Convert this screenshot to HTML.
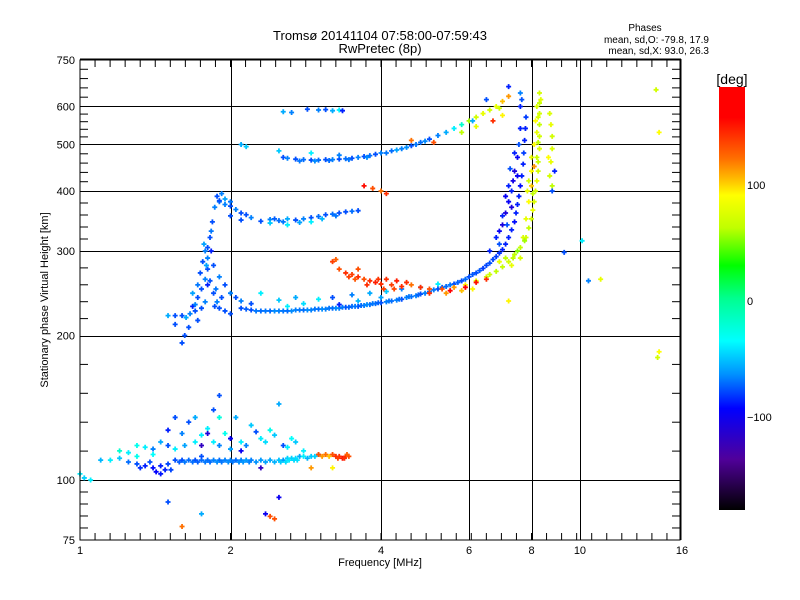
<!DOCTYPE html>
<html><head><meta charset="utf-8"><style>
html,body{margin:0;padding:0;background:#fff;}
svg{display:block;font-family:"Liberation Sans","DejaVu Sans",sans-serif;}
</style></head><body>
<svg id="chart" width="800" height="600" viewBox="0 0 800 600" xmlns="http://www.w3.org/2000/svg">
<defs>
<linearGradient id="cbar" x1="0" y1="1" x2="0" y2="0">
<stop offset="0" stop-color="#000000"/><stop offset="0.12" stop-color="#50009a"/><stop offset="0.24" stop-color="#0000ff"/>
<stop offset="0.32" stop-color="#0090ff"/><stop offset="0.40" stop-color="#00ffff"/><stop offset="0.50" stop-color="#00ff90"/>
<stop offset="0.578" stop-color="#00ff00"/><stop offset="0.667" stop-color="#c0ff00"/><stop offset="0.744" stop-color="#ffff00"/>
<stop offset="0.78" stop-color="#ffc000"/><stop offset="0.83" stop-color="#ff7000"/><stop offset="0.928" stop-color="#ff0000"/><stop offset="1" stop-color="#ff0000"/>
</linearGradient>
</defs>
<text x="380" y="40" font-size="13" text-anchor="middle">Tromsø 20141104 07:58:00-07:59:43</text>
<text x="380" y="53" font-size="13" text-anchor="middle">RwPretec (8p)</text>
<text x="645" y="31" font-size="10" text-anchor="middle">Phases</text>
<text x="709" y="43" font-size="10" text-anchor="end">mean, sd,O: -79.8, 17.9</text>
<text x="709" y="54" font-size="10" text-anchor="end">mean, sd,X:  93.0, 26.3</text>
<g id="grid"></g>
<g id="marks"></g>
<rect x="80" y="60" width="600" height="480" fill="none" stroke="#000" stroke-width="1"/>
<line x1="80" y1="59.5" x2="681" y2="59.5" stroke="#000" stroke-width="2"/>
<line x1="680.5" y1="59" x2="680.5" y2="540" stroke="#000" stroke-width="2"/>
<g id="axes"></g>
<text x="380" y="566" font-size="11" text-anchor="middle">Frequency [MHz]</text>
<text x="48" y="300" font-size="11" text-anchor="middle" transform="rotate(-90 48 300)">Stationary phase Virtual Height [km]</text>
<rect x="719" y="87" width="26" height="423" fill="url(#cbar)"/>
<text x="732" y="84" font-size="14" text-anchor="middle">[deg]</text>
<text x="747" y="189" font-size="11">100</text>
<text x="747" y="305" font-size="11">0</text>
<text x="747" y="421" font-size="11">−100</text>
</svg>
<script>
const xTickLabels=[1,2,4,6,8,10,16];
const yTickLabels=[75,100,200,300,400,500,600,750];
const xGrid=[2,4,6,8,10];
const yGrid=[100,200,300,400,500,600];
const esTrace=[[1.1,110,-55],[1.15,110,-40],[1.2,111,-50],[1.25,109,-72],[1.3,108,-78],[1.35,107,-88],[1.4,106,-92],[1.45,107,-88],[1.5,108,-80],[1.55,110,-78],[1.6,110,-78],[1.65,110,-72],[1.7,110,-78],[1.75,110,-72],[1.8,110,-72],[1.85,110,-68],[1.9,110,-72],[1.95,110,-68],[2.0,110,-68],[2.05,110,-72],[2.1,110,-68],[2.15,110,-62],[2.2,110,-68],[2.3,110,-62],[2.4,110,-58],[2.5,110,-52],[2.55,110,-62],[2.6,111,-48],[2.65,111,-48],[2.7,111,-45],[2.75,112,-58],[2.8,112,-40],[3.0,113,-68],[1.42,104,-95],[1.48,105,-88],[1.38,109,-78],[1.32,106,-85],[1.45,103,-90],[1.52,105,-80],[1.58,109,-75],[1.62,109,-70],[1.68,109,-72],[1.72,109,-75],[1.78,109,-70],[1.82,109,-72],[1.88,109,-66],[1.92,109,-70],[1.98,109,-66],[2.02,109,-70],[2.08,109,-66],[2.12,109,-64],[2.18,109,-68],[2.25,109,-64],[2.35,109,-60],[2.45,109,-56],[2.52,109,-50],[2.58,109,-45],[2.62,110,-42],[2.68,110,-46],[2.72,110,-44],[2.85,111,-55],[2.9,112,-50],[2.95,112,-48]];
const esOrange=[[3.0,113,130],[3.1,113,120],[3.2,113,130],[3.25,112,140],[3.3,112,140],[3.35,111,150],[3.4,112,140],[3.45,112,130],[3.2,106,90],[2.9,106,110],[3.05,112,110],[3.15,112,100],[3.28,111,135],[3.38,111,140],[3.42,113,125]];
const esScatter=[[1.0,103,-40],[1.02,101,-48],[1.05,100,-40],[1.2,115,-20],[1.25,114,-40],[1.3,112,-30],[1.35,117,-40],[1.4,113,-35],[1.45,120,-58],[1.5,118,-78],[1.55,116,-40],[1.6,125,-68],[1.65,132,-78],[1.55,135,-78],[1.5,127,-88],[1.7,120,-40],[1.75,112,-78],[1.8,128,-40],[1.85,140,-78],[1.9,150,-78],[1.8,125,-110],[1.7,135,-58],[1.75,118,-120],[1.9,118,-68],[1.95,125,-30],[2.0,122,-98],[2.05,135,-58],[2.1,120,-40],[2.15,118,-68],[2.25,126,-78],[2.3,122,-40],[2.4,127,-30],[2.45,124,-50],[2.5,144,-58],[2.55,118,-78],[2.6,117,-40],[2.7,120,-50],[2.8,115,-40],[2.3,106,-120],[2.5,92,-100],[2.35,85,-100],[2.4,84,130],[2.45,83,130],[1.5,90,-78],[1.75,85,-58],[1.6,80,120],[1.9,135,-25],[1.75,124,-40],[2.1,115,-100],[2.2,130,-50],[1.4,116,-68],[1.3,118,-30],[1.62,118,-60],[2.35,120,-45],[2.65,122,-35],[2.0,116,-60],[1.85,120,-40]];
const cusp=[[1.6,220,-78],[1.63,218,-58],[1.66,222,-68],[1.7,225,-78],[1.62,200,-78],[1.6,193,-78],[1.65,208,-78],[1.68,230,-88],[1.72,240,-78],[1.75,250,-78],[1.78,262,-68],[1.8,275,-78],[1.8,290,-68],[1.8,305,-78],[1.82,320,-78],[1.84,345,-78],[1.86,370,-68],[1.88,390,-78],[1.92,395,-68],[1.82,260,-78],[1.85,245,-78],[1.88,235,-68],[1.9,228,-78],[1.95,225,-78],[2.0,222,-78],[1.78,235,-68],[1.75,228,-78],[1.72,215,-78],[1.55,220,-78],[1.5,220,-58],[1.55,211,-78],[1.85,280,-78],[1.9,265,-68],[1.95,255,-78],[2.0,245,-68],[2.05,240,-78],[2.1,236,-68],[2.2,233,-78],[1.83,300,-88],[1.76,285,-78],[1.78,300,-68],[1.8,255,-88],[1.7,232,-68],[1.86,230,-78],[1.92,240,-78],[1.74,270,-78],[1.77,310,-60],[1.83,330,-70],[1.79,280,-60],[1.72,255,-70],[1.68,245,-60],[1.87,250,-70],[1.9,380,-70],[1.95,385,-60],[2.0,380,-70]];
const fTraceO=[[2.1,228,-78],[2.2,226,-78],[2.3,225,-72],[2.4,225,-72],[2.5,225,-68],[2.6,225,-72],[2.7,226,-68],[2.8,226,-72],[2.9,226,-68],[3.0,227,-72],[3.1,227,-68],[3.2,228,-72],[3.3,228,-68],[3.4,229,-78],[3.5,230,-72],[3.6,230,-78],[3.7,231,-68],[3.8,232,-72],[3.9,233,-72],[4.0,234,-78],[4.1,235,-68],[4.2,236,-72],[4.3,237,-68],[4.4,238,-78],[4.5,240,-68],[4.6,241,-72],[4.7,242,-68],[4.8,244,-78],[4.9,245,-68],[5.0,247,-72],[5.2,250,-78],[5.4,253,-72],[5.6,256,-78],[5.8,260,-78],[6.0,265,-78],[6.2,270,-78],[6.4,276,-82],[6.6,283,-78],[6.8,292,-82],[7.0,302,-88],[7.1,310,-88],[7.2,320,-88],[7.3,332,-88],[7.4,345,-92],[7.45,360,-88],[7.5,375,-88],[7.55,390,-88],[7.6,410,-92],[7.65,430,-88],[7.7,455,-88],[7.72,480,-82],[7.75,510,-88],[7.78,540,-88],[7.8,570,-82],[2.15,227,-75],[2.25,225,-70],[2.35,225,-70],[2.45,225,-66],[2.55,225,-70],[2.65,225,-66],[2.75,226,-70],[2.85,226,-66],[2.95,227,-70],[3.05,227,-66],[3.15,228,-70],[3.25,228,-66],[3.35,229,-70],[3.45,229,-74],[3.55,230,-70],[3.65,231,-72],[3.75,232,-66],[3.85,233,-70],[3.95,234,-74],[4.15,236,-70],[4.35,238,-72],[4.55,241,-70],[4.75,243,-74],[5.1,249,-70],[5.3,252,-74],[5.5,255,-70],[5.7,258,-74],[5.9,262,-72],[6.1,268,-76],[6.3,273,-76],[6.5,280,-80],[6.7,288,-80],[6.9,297,-84]];
const fScatterO=[[2.5,237,-50],[2.7,240,-58],[3.0,238,-40],[3.2,240,-78],[3.5,243,-68],[3.8,245,-58],[4.1,247,-50],[4.4,250,-68],[4.8,252,-58],[5.2,256,-40],[3.3,232,-88],[2.3,245,-40],[2.6,230,-40],[6.9,330,-98],[7.0,340,-108],[7.1,360,-108],[7.2,380,-98],[7.3,400,-88],[7.35,420,-104],[7.4,440,-108],[7.5,470,-98],[6.8,320,-88],[6.6,300,-88],[7.0,355,-88],[7.1,390,-98],[7.2,410,-88],[7.25,445,-78],[7.4,480,-88],[7.55,500,-78],[7.6,540,-88],[7.5,430,-98],[7.3,370,-108],[7.15,340,-78],[6.9,310,-78],[7.6,600,-88],[7.65,620,-78],[2.8,233,-45],[3.6,236,-55],[4.0,240,-60]];
const xTrace=[[5.0,245,140],[5.3,250,130],[5.6,252,110],[5.9,255,90],[6.2,260,75],[6.5,265,68],[6.8,272,60],[7.0,278,62],[7.2,285,68],[7.4,295,60],[7.6,305,62],[7.8,320,68],[7.9,335,62],[8.0,350,68],[8.05,365,78],[8.1,380,72],[8.15,400,68],[8.2,420,78],[8.25,440,68],[8.25,460,62],[8.3,490,72],[8.3,520,68],[8.3,550,62],[8.3,580,68],[8.3,610,62],[8.3,640,68],[7.7,320,72],[7.8,350,78],[7.9,380,88],[8.0,410,98],[8.0,440,88],[7.6,290,72],[7.3,280,78],[8.1,500,88],[8.0,470,78],[8.2,530,78],[8.15,560,88],[8.2,600,72],[7.9,420,68],[7.85,400,78],[8.1,450,110],[7.5,300,50],[7.1,290,60],[6.9,285,78],[6.6,268,65],[7.35,290,60],[7.75,315,55],[8.05,395,60],[8.2,470,65],[8.25,505,60],[8.25,570,70],[8.35,620,75]];
const xTrace2=[[8.7,430,68],[8.75,460,78],[8.8,490,72],[8.8,520,68],[8.75,550,78],[8.7,580,72],[8.8,410,60],[8.9,440,-88],[8.8,400,-78],[8.65,470,88]];
const orangeBlob=[[3.3,275,130],[3.4,270,140],[3.5,268,135],[3.6,265,140],[3.7,262,130],[3.8,260,140],[3.9,258,145],[4.0,256,140],[4.2,255,135],[4.4,253,140],[4.6,255,120],[4.8,252,140],[5.0,250,130],[4.3,260,145],[4.1,262,140],[3.6,275,130],[4.5,258,140],[3.2,285,135],[3.25,288,125],[5.5,248,160],[5.9,252,170],[6.2,258,150],[6.5,262,140],[5.4,245,110],[5.8,248,100],[6.1,250,90],[3.75,255,140],[4.05,250,135],[3.45,265,135],[3.55,262,128],[3.95,262,138],[4.25,250,132]];
const upperTrace=[[1.9,382,-78],[1.95,375,-68],[2.0,372,-78],[2.05,366,-68],[2.1,360,-78],[2.15,357,-78],[2.2,352,-68],[2.0,355,-78],[2.1,348,-78],[2.3,346,-78],[2.4,349,-68],[2.5,347,-72],[2.6,350,-58],[2.7,348,-78],[2.8,350,-68],[2.9,352,-78],[3.0,354,-72],[3.1,357,-78],[3.2,358,-72],[3.3,360,-78],[3.4,362,-78],[3.5,363,-72],[3.6,364,-78],[2.4,343,-50],[2.6,340,-40],[2.9,345,-40],[3.7,410,150],[3.85,405,130],[4.0,400,120],[4.1,395,140],[2.45,350,-75],[2.55,345,-70],[2.75,344,-60],[3.05,350,-55],[3.25,355,-70]];
const f2Trace=[[2.55,470,-78],[2.6,468,-68],[2.7,466,-78],[2.8,465,-72],[2.9,464,-78],[3.0,464,-72],[3.1,465,-78],[3.2,465,-68],[3.3,466,-78],[3.4,467,-72],[3.5,468,-78],[3.6,470,-68],[3.7,472,-78],[3.8,474,-72],[3.9,477,-78],[4.0,480,-68],[4.2,485,-72],[4.4,490,-68],[4.6,497,-78],[4.8,505,-72],[5.0,513,-78],[5.2,522,-68],[5.4,530,-58],[5.6,540,-40],[5.8,550,-20],[6.0,560,55],[6.2,570,68],[6.4,580,78],[6.6,590,68],[6.8,600,78],[7.0,615,100],[7.2,630,110],[2.5,485,-50],[2.9,480,-40],[3.3,475,-68],[4.6,510,120],[5.1,505,130],[5.8,530,60],[6.2,545,78],[6.7,560,140],[7.0,575,90],[6.9,595,68],[6.1,560,-58],[2.1,500,-58],[2.15,495,-50],[2.55,585,-58],[2.65,583,-68],[2.85,592,-78],[3.0,590,-68],[3.1,591,-78],[3.2,588,-58],[3.3,590,-40],[3.35,588,-88],[6.5,620,-78],[7.2,660,-88],[7.6,640,-68],[2.75,462,-70],[2.95,462,-66],[3.15,463,-72],[3.45,465,-70],[3.75,470,-66],[4.1,480,-70],[4.3,487,-60],[4.5,493,-65],[4.7,500,-70],[4.9,508,-66]];
const outliers=[[14.2,650,68],[14.4,530,88],[14.3,180,68],[14.4,185,88],[10.4,260,-68],[11.0,262,78],[9.3,298,-78],[10.1,315,-40],[7.2,236,90]];

const X0=80,PXO=150.5,Y100=480,PXD=480;
function xs(f){return X0+Math.log2(f)*PXO;}
function ys(h){return Y100-Math.log10(h/100)*PXD;}
const stops=[[-180,[0,0,0]],[-137,[80,0,154]],[-94,[0,0,255]],[-65,[0,144,255]],[-36,[0,255,255]],[0,[0,255,144]],[28,[0,255,0]],[60,[192,255,0]],[88,[255,255,0]],[100,[255,192,0]],[120,[255,112,0]],[154,[255,0,0]],[183,[255,0,0]]];
function col(p){for(let i=1;i<stops.length;i++){if(p<=stops[i][0]){const a=stops[i-1],b=stops[i];const t=(p-a[0])/(b[0]-a[0]);const c=a[1].map((v,k)=>Math.round(v+(b[1][k]-v)*t));return 'rgb('+c.join(',')+')';}}return 'rgb(255,0,0)';}
const NS='http://www.w3.org/2000/svg';
function mk(tag,attrs,parent){const e=document.createElementNS(NS,tag);for(const k in attrs)e.setAttribute(k,attrs[k]);parent.appendChild(e);return e;}
const grid=document.getElementById('grid');
xGrid.forEach(f=>{const x=Math.round(xs(f))+0.5;const l=mk('line',{x1:x,y1:60,x2:x,y2:540,stroke:'#000','stroke-width':1},grid);

});
yGrid.forEach(h=>{const y=Math.round(ys(h))+0.5;const l=mk('line',{x1:80,y1:y,x2:680,y2:y,stroke:'#000','stroke-width':1},grid);

});
const axes=document.getElementById('axes');
xTickLabels.forEach(f=>{const t=mk('text',{x:xs(f),y:554,'font-size':11,'text-anchor':'middle'},axes);t.textContent=f;

});
yTickLabels.forEach(h=>{const t=mk('text',{x:75,y:ys(h)+4,'font-size':11,'text-anchor':'end'},axes);t.textContent=h;

});
for(let k=1;k<40;k++){const x=80+k*15.05;if(x>=680)break;[[60,67],[540,533]].forEach(([a,b])=>{const l=mk('line',{x1:x,y1:a,x2:x,y2:b,stroke:'#000','stroke-width':1},axes);

});}
const yl=yTickLabels.map(ys).sort((a,b)=>a-b);
for(let i=0;i<yl.length-1;i++){for(let k=1;k<5;k++){const y=yl[i]+(yl[i+1]-yl[i])*k/5;[[80,88],[680,672]].forEach(([a,b])=>{const l=mk('line',{x1:a,y1:y,x2:b,y2:y,stroke:'#000','stroke-width':1},axes);

});}}
const marks=document.getElementById('marks');
const series=[esTrace,esOrange,esScatter,cusp,fTraceO,fScatterO,xTrace,xTrace2,orangeBlob,upperTrace,f2Trace,outliers];
series.forEach(s=>s.forEach(([f,h,p])=>{const x=xs(f),y=ys(h);const c=col(p);
const m=mk('path',{d:'M'+(x-2.5)+' '+y+'h5M'+x+' '+(y-2.5)+'v5',stroke:c,'stroke-width':1.8,fill:'none'},marks);

}));
</script>
</body></html>
